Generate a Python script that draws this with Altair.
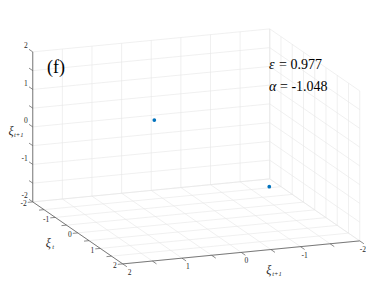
import altair as alt
import pandas as pd
import numpy as np

# ---- data ----
xi_t = [0.40, 0.56]          # xi_t
xi_t1 = [0.86, -1.02]        # xi_{t+1} (horizontal)
xi_t2 = [1.00, -1.00]        # vertical axis
grid_vals = [-2, -1.5, -1, -0.5, 0, 0.5, 1, 1.5, 2]
tick_labels = [-2, -1, 0, 1, 2]
panel = "(f)"
eps_sym, eps_val = "ε", "= 0.977"
alpha_sym, alpha_val = "α", "= -1.048"

# ---- 3D view (oblique projection, page pixel coords) ----
O = (196.25, 146.4)
EX = (22.5, 15.5)
EY = (-59.25, 5.75)
EZ = (0.0, -37.5)


def proj(a, b, c):
    return (O[0] + a * EX[0] + b * EY[0] + c * EZ[0],
            O[1] + a * EX[1] + b * EY[1] + c * EZ[1])


def seg(p, q):
    (x, y), (x2, y2) = proj(*p), proj(*q)
    return dict(x=x, y=y, x2=x2, y2=y2)


def unit(v):
    n = np.hypot(*v)
    return (v[0] / n, v[1] / n)


# grid lines
grid = []
for g in grid_vals:
    grid.append(seg((g, -2, -2), (g, 2, -2)))   # floor
    grid.append(seg((-2, g, -2), (2, g, -2)))
    grid.append(seg((-2, -2, g), (-2, 2, g)))   # left back wall
    grid.append(seg((-2, g, -2), (-2, g, 2)))
    grid.append(seg((-2, -2, g), (2, -2, g)))   # right back wall
    grid.append(seg((g, -2, -2), (g, -2, 2)))
grid_df = pd.DataFrame(grid)

# axis lines
axes_df = pd.DataFrame([
    seg((-2, 2, -2), (-2, 2, 2)),
    seg((-2, 2, -2), (2, 2, -2)),
    seg((2, 2, -2), (2, -2, -2)),
])

# ticks
ticks = []
ux, uy = unit((-EX[0], -EX[1]))
vx, vy = unit(EY)
wx, wy = unit(EX)
for g in grid_vals:
    x, y = proj(-2, 2, g)
    ticks.append(dict(x=x, y=y, x2=x + ux * 4.5, y2=y + uy * 4.5))
    x, y = proj(g, 2, -2)
    ticks.append(dict(x=x, y=y, x2=x + vx * 5, y2=y + vy * 5))
    x, y = proj(2, g, -2)
    ticks.append(dict(x=x, y=y, x2=x + wx * 5, y2=y + wy * 5))
ticks_df = pd.DataFrame(ticks)

# tick labels
zl, xl, yl = [], [], []
for v in tick_labels:
    x, y = proj(-2, 2, v)
    zl.append(dict(x=x - 5, y=y - 5.5, t=str(v)))
    x, y = proj(v, 2, -2)
    xl.append(dict(x=x - 6, y=y + 2.5, t=str(v)))
    x, y = proj(2, v, -2)
    yl.append(dict(x=x + 5 + 0.9 * v, y=y + 9, t=str(v)))

pts_df = pd.DataFrame({"sx": [proj(a, b, c)[0] for a, b, c in zip(xi_t, xi_t1, xi_t2)],
                       "sy": [proj(a, b, c)[1] for a, b, c in zip(xi_t, xi_t1, xi_t2)]})

XS = alt.Scale(domain=[8, 366], nice=False, zero=False)
YS = alt.Scale(domain=[8, 279], nice=False, zero=False, reverse=True)
FONT = "Liberation Serif"


def rules(df, color, width):
    return alt.Chart(df).mark_rule(color=color, strokeWidth=width).encode(
        x=alt.X("x:Q", scale=XS, axis=None), y=alt.Y("y:Q", scale=YS, axis=None),
        x2="x2:Q", y2="y2:Q")


def texts(rows, size, align="center", baseline="middle", color="#262626", style="normal"):
    return alt.Chart(pd.DataFrame(rows)).mark_text(
        font=FONT, fontSize=size, align=align, baseline=baseline, color=color,
        fontStyle=style).encode(
        x=alt.X("x:Q", scale=XS, axis=None), y=alt.Y("y:Q", scale=YS, axis=None),
        text="t:N")


# axis titles (xi symbol + subscript)
tx, ty = proj(0, 2, -2)
hx, hy = proj(2, 0, -2)
vx0, vy0 = proj(-2, 2, 0)
titles_main = [dict(x=tx - 32, y=ty + 10, t="ξ"), dict(x=hx + 25, y=hy + 18, t="ξ"),
               dict(x=8.5, y=vy0 + 4.5, t="ξ")]
titles_sub = [dict(x=tx - 25.5, y=ty + 14.5, t="t"), dict(x=hx + 31, y=hy + 22, t="t+1"),
              dict(x=14, y=vy0 + 8, t="t+1")]

pts = alt.Chart(pts_df).mark_circle(color="#0072BD", size=14, opacity=1).encode(
    x=alt.X("sx:Q", scale=XS, axis=None), y=alt.Y("sy:Q", scale=YS, axis=None))

chart = alt.layer(
    rules(grid_df, "#e6e6e6", 0.6),
    rules(axes_df, "#5a5a5a", 0.8),
    rules(ticks_df, "#5a5a5a", 0.7),
    texts(zl, 7.5, align="right"),
    texts(xl, 7.5, align="right"),
    texts(yl, 7.5),
    texts(titles_main, 12, align="left", style="italic"),
    texts(titles_sub, 6.5, align="left", style="italic"),
    texts([dict(x=47, y=68, t=panel)], 18, align="left", color="#000000"),
    texts([dict(x=269, y=65, t=eps_sym), dict(x=269, y=87, t=alpha_sym)], 14,
          align="left", color="#000000", style="italic"),
    texts([dict(x=279, y=65, t=eps_val), dict(x=280, y=87, t=alpha_val)], 14,
          align="left", color="#000000"),
    pts,
).properties(width=358, height=271, padding=0, autosize="none").configure_view(stroke=None)

chart.save("out.html", embed_options={"renderer": "svg", "actions": False})
